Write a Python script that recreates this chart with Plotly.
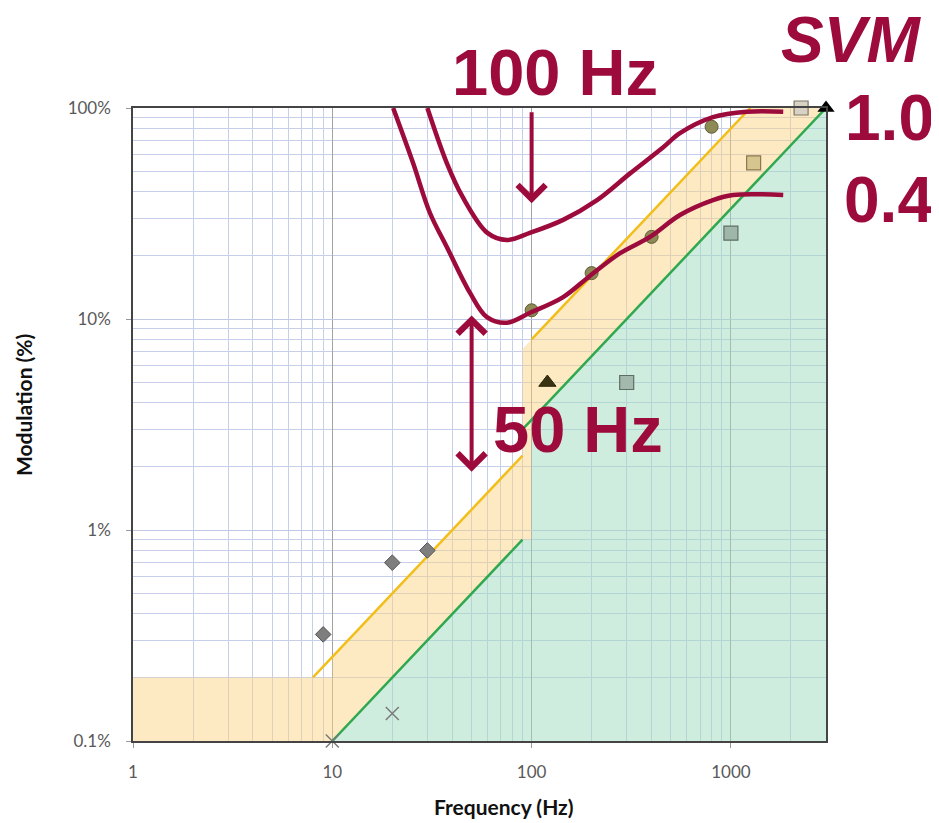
import numpy as np
import plotly.graph_objects as go

# ---------------- data ----------------
# Low-risk (yellow) region boundary
yel_fill_f = [1, 1, 10, 10, 90, 90, 1250, 3000, 3000, 100, 100, 90, 10, 1]
yel_fill_m = [0.1, 0.2, 0.2, 0.25, 2.25, 7.2, 100, 100, 100, 3.33, 0.9, 0.9, 0.1, 0.1]
yel_line1_f = [8, 90]
yel_line1_m = [0.2, 2.25]
yel_line2_f = [100, 1250]
yel_line2_m = [8, 100]

# No-effect (green) region boundary
grn_fill_f = [10, 90, 100, 100, 3000, 3000, 10]
grn_fill_m = [0.1, 0.9, 0.9, 3.33, 100, 0.1, 0.1]
grn_line1_f = [10, 90]
grn_line1_m = [0.1, 0.9]
grn_line2_f = [90, 3000]
grn_line2_m = [3.0, 100]

# SVM contours
svm10_f = [30, 37.5, 45, 60, 75, 98, 144, 213, 312, 456, 555, 813, 1200, 1830]
svm10_m = [100, 55, 38, 25.6, 23.7, 25.6, 29.5, 36.6, 49, 65, 76, 90.5, 96, 96]
svm04_f = [20.2, 25.4, 30.9, 37.6, 49.1, 59.7, 75.2, 98.2, 144, 196, 278, 393, 555, 813, 1024, 1830]
svm04_m = [100, 55, 31.8, 21.9, 13.3, 10.2, 9.6, 10.7, 12.7, 16.0, 20.5, 24.5, 31.1, 36.6, 38.7, 38.7]

# measured lamps
dia_f = [9, 20, 30]
dia_m = [0.32, 0.70, 0.80]
x_f = [10, 20]
x_m = [0.1, 0.135]
circ_f = [100, 200, 400, 800]
circ_m = [11.0, 16.5, 24.5, 81.5]
tri_f = [120]
tri_m = [5.0]
sq_f = [300, 1000, 1300, 2250]
sq_m = [5.0, 25.5, 55, 100]
sq_col = ["#A3B9AD", "#9FB6AA", "#D6C58F", "#D8D2C4"]
sq_line = ["#5E6E62", "#5E6E62", "#8A7A4E", "#7F7666"]
blk_f = [3000]
blk_m = [100]

x_ticks = [1, 10, 100, 1000]
x_ticktext = ["1", "10", "100", "1000"]
y_ticks = [0.1, 1, 10, 100]
y_ticktext = ["0.1%", "1%", "10%", "100%"]

RED = "#9C0B3B"

# page body has an 8px default margin -> shift figure geometry accordingly
OFF = 8
ML, MT, PW, PH = 133 - OFF, 108 - OFF, 693, 633
W, H = 939 - OFF, 823 - OFF


def px(xp):
    return (xp - 133) / PW


def py(yp):
    return (741 - yp) / PH


fig = go.Figure()

fig.add_trace(go.Scatter(x=yel_fill_f, y=yel_fill_m, fill="toself", mode="lines",
                         line=dict(width=0), fillcolor="rgba(250,212,130,0.48)",
                         hoverinfo="skip", showlegend=False))
fig.add_trace(go.Scatter(x=grn_fill_f, y=grn_fill_m, fill="toself", mode="lines",
                         line=dict(width=0), fillcolor="rgba(160,220,190,0.5)",
                         hoverinfo="skip", showlegend=False))

for fx, my in [(yel_line1_f, yel_line1_m), (yel_line2_f, yel_line2_m)]:
    fig.add_trace(go.Scatter(x=fx, y=my, mode="lines", line=dict(color="#F2BE1A", width=2.5),
                             showlegend=False))
for fx, my in [(grn_line1_f, grn_line1_m), (grn_line2_f, grn_line2_m)]:
    fig.add_trace(go.Scatter(x=fx, y=my, mode="lines", line=dict(color="#2FA84F", width=2.5),
                             showlegend=False))

# markers
fig.add_trace(go.Scatter(x=dia_f, y=dia_m, mode="markers", cliponaxis=False,
                         marker=dict(symbol="diamond", size=12, color="#7E7E7E",
                                     line=dict(color="#555555", width=1)), showlegend=False))
fig.add_trace(go.Scatter(x=x_f, y=x_m, mode="markers", cliponaxis=False,
                         marker=dict(symbol="x-thin-open", size=13, color="#7A7A7A",
                                     line=dict(color="#7A7A7A", width=1.5)), showlegend=False))
fig.add_trace(go.Scatter(x=circ_f, y=circ_m, mode="markers", cliponaxis=False,
                         marker=dict(symbol="circle", size=13, color="#8E8A56",
                                     line=dict(color="#5E5A35", width=1)), showlegend=False))
fig.add_trace(go.Scatter(x=tri_f, y=tri_m, mode="markers", cliponaxis=False,
                         marker=dict(symbol="triangle-up", size=15, color="#3A3312",
                                     line=dict(color="#2A240A", width=1)), showlegend=False))
fig.add_trace(go.Scatter(x=sq_f, y=sq_m, mode="markers", cliponaxis=False,
                         marker=dict(symbol="square", size=14, color=sq_col,
                                     line=dict(color=sq_line, width=1.2)), showlegend=False))

# SVM curves
for fx, my in [(svm10_f, svm10_m), (svm04_f, svm04_m)]:
    fig.add_trace(go.Scatter(x=fx, y=my, mode="lines",
                             line=dict(color=RED, width=4.5, shape="spline", smoothing=1.0),
                             showlegend=False))

fig.add_trace(go.Scatter(x=blk_f, y=blk_m, mode="markers", cliponaxis=False,
                         marker=dict(symbol="triangle-up", size=15, color="#000000"),
                         showlegend=False))

big = dict(family="Liberation Sans, Arial, sans-serif", color=RED)
L = np.log10
ann = [
    dict(text="<b><i>SVM</i></b>", x=px(851), y=py(40), font=dict(size=64, **big)),
    dict(text="<b>1.0</b>", x=px(889), y=py(118), font=dict(size=64, **big)),
    dict(text="<b>0.4</b>", x=px(888), y=py(200), font=dict(size=64, **big)),
    dict(text="<b>100 Hz</b>", x=px(555), y=py(72), font=dict(size=65, **big)),
    dict(text="<b>50 Hz</b>", x=px(578), y=py(429), font=dict(size=65, **big)),
    dict(text="<b>Frequency (Hz)</b>", x=px(504), y=py(806),
         font=dict(size=21, family="Lato, sans-serif", color="#111111")),
    dict(text="<b>Modulation (%)</b>", x=px(23), y=py(405), textangle=-90,
         font=dict(size=21, family="Lato, sans-serif", color="#111111")),
]
for a in ann:
    a.update(xref="paper", yref="paper", showarrow=False, xanchor="center", yanchor="middle")

ann.append(dict(x=L(100), y=L(35.4), ax=L(100), ay=L(97), xref="x", yref="y",
                axref="x", ayref="y", text="", showarrow=True, arrowhead=4,
                arrowsize=1.35, arrowwidth=4, arrowcolor=RED))
ann.append(dict(x=L(50), y=L(10.4), ax=L(50), ay=L(1.86), xref="x", yref="y",
                axref="x", ayref="y", text="", showarrow=True, arrowhead=4,
                startarrowhead=4, arrowside="end+start", arrowsize=1.35, startarrowsize=1.35,
                arrowwidth=4, arrowcolor=RED))

x_minor = [v * d for d in [1, 10, 100] for v in range(2, 10)] + [2000, 3000]
y_minor = [v * d for d in [0.1, 1, 10] for v in range(2, 10)]

tickfont = dict(family="Lato, sans-serif", size=17, color="#595959")

fig.update_layout(
    width=W, height=H,
    margin=dict(l=ML, r=W - ML - PW, t=MT, b=H - MT - PH),
    paper_bgcolor="white", plot_bgcolor="white",
    annotations=ann,
    xaxis=dict(type="log", range=[0, L(3000)], tickmode="array", tickvals=x_ticks,
               ticktext=x_ticktext, showgrid=True, gridcolor="#A3A3A3", gridwidth=1,
               showline=True, linecolor="#444444", linewidth=1.5, mirror=True,
               ticks="outside", ticklen=5, tickcolor="#999999",
               tickfont=tickfont, ticklabelstandoff=10, zeroline=False,
               minor=dict(tickmode="array", tickvals=x_minor, showgrid=True,
                          gridcolor="#C6CEEA", gridwidth=1, ticks="")),
    yaxis=dict(type="log", range=[-1, 2], tickmode="array", tickvals=y_ticks,
               ticktext=y_ticktext, showgrid=True, gridcolor="#C0C8E6", gridwidth=1,
               showline=True, linecolor="#444444", linewidth=1.5, mirror=True,
               ticks="outside", ticklen=5, tickcolor="#999999",
               tickfont=tickfont, ticklabelstandoff=12, zeroline=False,
               minor=dict(tickmode="array", tickvals=y_minor, showgrid=True,
                          gridcolor="#C6CEEA", gridwidth=1, ticks="")),
)

fig.write_html("out.html")
